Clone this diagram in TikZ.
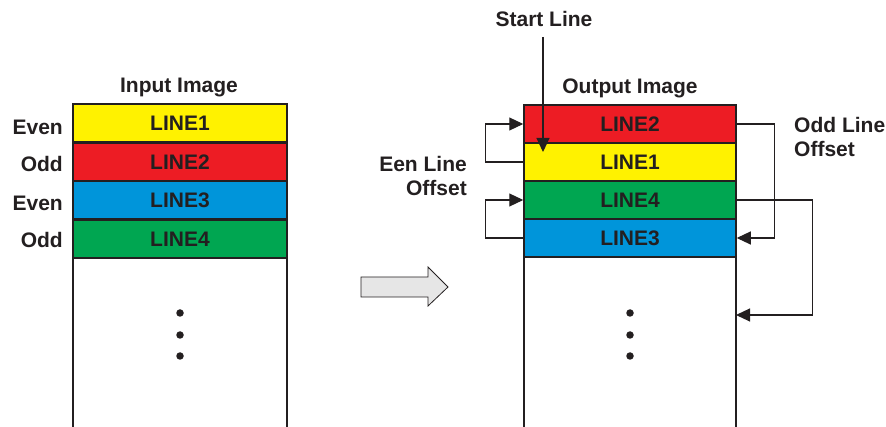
\documentclass[tikz,border=0pt]{standalone}
\usepackage{fontspec}
\setmainfont{Liberation Sans}
\usetikzlibrary{arrows.meta}
\definecolor{ink}{HTML}{231F20}
\definecolor{cyel}{HTML}{FFF200}
\definecolor{cred}{HTML}{ED1C24}
\definecolor{cblu}{HTML}{0095DA}
\definecolor{cgrn}{HTML}{00A651}
\definecolor{cgry}{HTML}{E6E6E6}
\tikzset{
  lbl/.style={font=\fontsize{21}{24}\selectfont\bfseries, text=ink, inner sep=0pt},
  rowbox/.style={draw=ink, line width=1.5pt, minimum height=38pt, inner sep=0pt, lbl},
  outline/.style={draw=ink, line width=2.2pt},
  arr/.style={draw=ink, line width=1.1pt, -{Triangle[length=14pt,width=13pt]}},
  dot/.style={circle, fill=ink, minimum size=7.5pt, inner sep=0pt},
}
\begin{document}
\begin{tikzpicture}[x=1pt,y=-1pt]
\useasboundingbox (0,0) rectangle (886,427);
% input image
\node[lbl] (inttl) at (179,88) {Input Image};
\node[rowbox, fill=cyel, minimum width=214pt] (i1) at (180,123) {LINE1};
\node[rowbox, fill=cred, minimum width=214pt] (i2) at (180,162) {LINE2};
\node[rowbox, fill=cblu, minimum width=214pt] (i3) at (180,200) {LINE3};
\node[rowbox, fill=cgrn, minimum width=214pt] (i4) at (180,239) {LINE4};
\draw[outline] (73,430) -- (73,104) -- (287,104) -- (287,430);
\node[lbl, anchor=east] (e1) at (63,127) {Even};
\node[lbl, anchor=east] (e2) at (63,164) {Odd};
\node[lbl, anchor=east] (e3) at (63,203) {Even};
\node[lbl, anchor=east] (e4) at (63,240) {Odd};
\node[dot] (d1) at (180,313) {};
\node[dot] (d2) at (180,335) {};
\node[dot] (d3) at (180,356) {};
% big arrow
\draw[draw=ink, line width=0.8pt, fill=cgry] (361,277) -- (428,277) -- (428,267) -- (448,287) -- (428,306) -- (428,297) -- (361,297) -- cycle;
% output image
\node[lbl] (outtl) at (630,88) {Output Image};
\node[rowbox, fill=cred, minimum width=212pt] (r1) at (630,124) {LINE2};
\node[rowbox, fill=cyel, minimum width=212pt] (r2) at (630,162) {LINE1};
\node[rowbox, fill=cgrn, minimum width=212pt] (r3) at (630,200) {LINE4};
\node[rowbox, fill=cblu, minimum width=212pt] (r4) at (630,238) {LINE3};
\draw[outline] (524,430) -- (524,105) -- (736,105) -- (736,430);
\node[dot] (f1) at (630,313) {};
\node[dot] (f2) at (630,335) {};
\node[dot] (f3) at (630,356) {};
% start line
\node[lbl] (sl) at (544,19) {Start Line};
\coordinate (st) at (543,152);
\draw[arr] (543,37) -- (st);
% even offsets
\node[lbl, anchor=east, align=right] (eo) at (467,176) {Een Line\\Offset};
\draw[arr] (r2.west) -- ++(-38,0) |- (r1.west);
\draw[arr] (r4.west) -- ++(-38,0) |- (r3.west);
% odd offsets
\node[lbl, anchor=west, align=left] (oo) at (794,137) {Odd Line\\Offset};
\coordinate (tg) at (736,315);
\draw[arr] (r1.east) -- ++(38,0) |- (r4.east);
\draw[arr] (r3.east) -- ++(76,0) |- (tg);
\end{tikzpicture}
\end{document}
